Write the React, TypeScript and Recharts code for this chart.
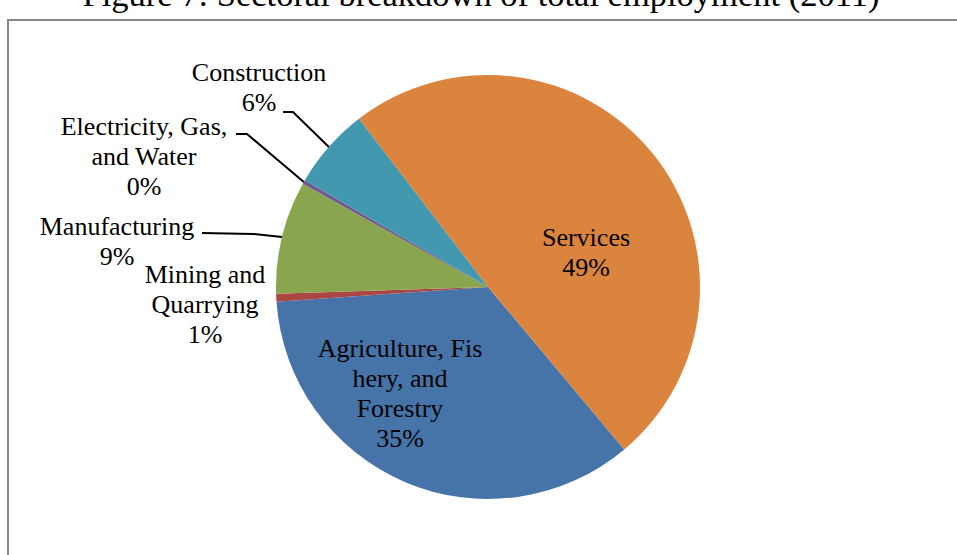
import React from 'react'
import { PieChart, Pie, Cell } from 'recharts'

const TITLE = 'Figure 7: Sectoral breakdown of total employment (2011)'

const sectors = [
  'Agriculture, Fishery, and Forestry',
  'Mining and Quarrying',
  'Manufacturing',
  'Electricity, Gas, and Water',
  'Construction',
  'Services',
]
// share of total employment, %
const shares = [35.0, 0.6, 8.6, 0.3, 6.2, 49.3]
// how Excel wrapped the category names on the chart
const labelText = [
  ['Agriculture, Fis', 'hery, and', 'Forestry'],
  ['Mining and', 'Quarrying'],
  ['Manufacturing'],
  ['Electricity, Gas,', 'and Water'],
  ['Construction'],
  ['Services'],
]
const colors = ['#4674A9', '#AA4643', '#89A54E', '#71588F', '#4198AF', '#DB843D']

const data = sectors.map((name, i) => ({ name, value: shares[i] }))

// label placement relative to the pie centre: text centre x, first baseline y,
// and for the outside labels the leader line elbow + end
type Layout = { dx: number; dy: number; elbow?: [number, number]; end?: [number, number] }
const labelLayout: Layout[] = [
  { dx: -88, dy: 70 },
  { dx: -283, dy: -4 },
  { dx: -371, dy: -52, elbow: [-235, -53], end: [-286, -54] },
  { dx: -344, dy: -152, elbow: [-241, -153], end: [-252, -153] },
  { dx: -229, dy: -206, elbow: [-195, -175], end: [-205, -175] },
  { dx: 98, dy: -41 },
]

const FONT = '"Liberation Serif", "Times New Roman", serif'
const RADIAN = Math.PI / 180
const W = 957
const H = 555
const CX = 488
const CY = 287

const renderLabel = (props: any) => {
  const { cx, cy, midAngle, outerRadius, percent, index } = props
  const lay = labelLayout[index]
  const lines = [...labelText[index], `${Math.round(percent * 100)}%`]
  const tx = cx + lay.dx
  let leader = null
  if (lay.elbow && lay.end) {
    const ex = cx + outerRadius * Math.cos(-midAngle * RADIAN)
    const ey = cy + outerRadius * Math.sin(-midAngle * RADIAN)
    leader = (
      <polyline
        points={`${ex},${ey} ${cx + lay.elbow[0]},${cy + lay.elbow[1]} ${cx + lay.end[0]},${cy + lay.end[1]}`}
        fill="none"
        stroke="#000"
        strokeWidth={2}
      />
    )
  }
  return (
    <g key={`lbl-${index}`}>
      {leader}
      <text x={tx} y={cy + lay.dy} textAnchor="middle" fontSize={26} fontFamily={FONT} fill="#000">
        {lines.map((l, i) => (
          <tspan key={i} x={tx} dy={i === 0 ? 0 : 30}>{l}</tspan>
        ))}
      </text>
    </g>
  )
}

export default function App() {
  return (
    <div style={{ position: 'absolute', left: 0, top: 0, width: W, height: H, overflow: 'hidden', background: '#fff' }}>
      <svg width={W} height={H} style={{ position: 'absolute', left: 0, top: 0 }}>
        <rect x={8} y={20} width={1000} height={600} fill="#fff" stroke="#878787" strokeWidth={2} />
        <text x={481} y={6} textAnchor="middle" fontSize={34.5} fontFamily={FONT} fill="#000">{TITLE}</text>
      </svg>
      <div style={{ position: 'absolute', left: 0, top: 0 }}>
        <PieChart width={W} height={H} margin={{ top: 0, right: 0, bottom: 0, left: 0 }}>
          <Pie
            data={data}
            dataKey="value"
            nameKey="name"
            cx={CX}
            cy={CY}
            outerRadius={212}
            startAngle={-50}
            endAngle={-410}
            stroke="none"
            label={renderLabel}
            labelLine={false}
            isAnimationActive={false}
          >
            {data.map((d, i) => (
              <Cell key={d.name} fill={colors[i]} />
            ))}
          </Pie>
        </PieChart>
      </div>
    </div>
  )
}
